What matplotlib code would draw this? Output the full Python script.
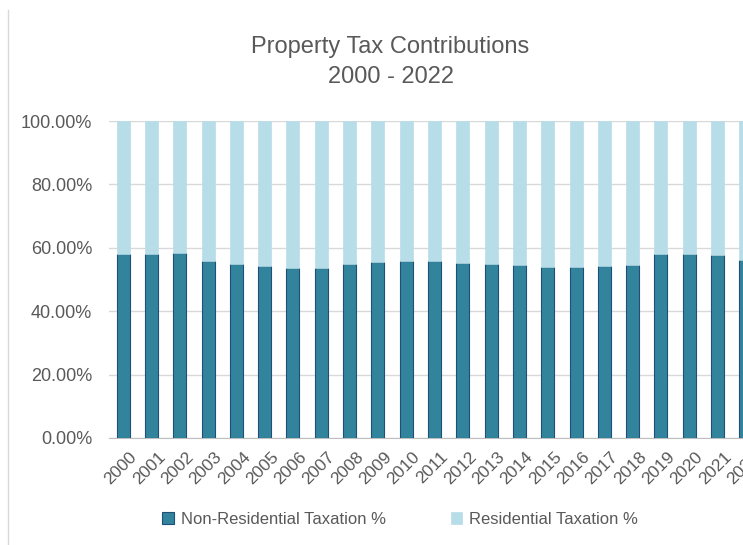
import numpy as np
import matplotlib
matplotlib.use("Agg")
import matplotlib.pyplot as plt
from matplotlib.lines import Line2D
from matplotlib.ticker import PercentFormatter
from matplotlib.transforms import ScaledTranslation

#%% data

years = [str(y) for y in range(2000, 2023)]
non_residential = [57.9, 58.1, 58.5, 55.7, 54.9, 54.3, 53.5, 53.5, 54.8, 55.5, 55.8,
                   55.7, 55.2, 54.9, 54.7, 53.9, 53.9, 54.3, 54.5, 58.0, 57.9, 57.6, 56.2]
residential = [100 - v for v in non_residential]

#%% plot

plt.rcParams['font.family'] = ['Liberation Sans', 'DejaVu Sans']
grey = '#595959'

fig = plt.figure(figsize=(7.43, 5.45), dpi=100)
# axes runs off the right edge, like the cropped original
ax = fig.add_axes([109/743, 107/545, 651/743, 317/545])

x = np.arange(len(years))
ax.bar(x, non_residential, width=0.46, color='#31849B', edgecolor='#1F4E79',
       linewidth=0.8, label='Non-Residential Taxation %', zorder=3)
ax.bar(x, residential, width=0.46, bottom=non_residential, color='#B7DEE8',
       edgecolor='#B7DEE8', linewidth=0.5, label='Residential Taxation %', zorder=3)

ax.set_xlim(-0.5, len(years) - 0.5)
ax.set_ylim(0, 100)
ax.set_yticks(np.arange(0, 101, 20))
ax.yaxis.set_major_formatter(PercentFormatter(decimals=2))
ax.grid(axis='y', color='#D9D9D9', linewidth=1, zorder=0)

for s in ['top', 'right', 'left']:
    ax.spines[s].set_visible(False)
ax.spines['bottom'].set_color('#BFBFBF')

ax.set_xticks(x)
ax.set_xticklabels(years, rotation=45, ha='right', va='top', rotation_mode='anchor')
ax.tick_params(axis='both', length=0, labelcolor=grey)
ax.tick_params(axis='x', pad=8, labelsize=12.5)
ax.tick_params(axis='y', pad=12, labelsize=13)
shift = ScaledTranslation(6/100, 0, fig.dpi_scale_trans)
for lab in ax.get_xticklabels():
    lab.set_transform(lab.get_transform() + shift)

fig.text(390/743, 1 - 47/545, 'Property Tax Contributions', ha='center', va='center',
         fontsize=17, color=grey)
fig.text(391/743, 1 - 77/545, '2000 - 2022', ha='center', va='center',
         fontsize=17, color=grey)

fig.legend(loc='center', bbox_to_anchor=(400/743, 1 - 519/545), ncol=2, frameon=False,
           fontsize=12, labelcolor=grey, handlelength=0.7, handleheight=0.7,
           handletextpad=0.4, columnspacing=3.9)

# chart area border on the left
fig.add_artist(Line2D([8/743, 8/743], [0, 1 - 10/545], color='#D9D9D9', linewidth=1))

fig.savefig('out.png', dpi=100)
